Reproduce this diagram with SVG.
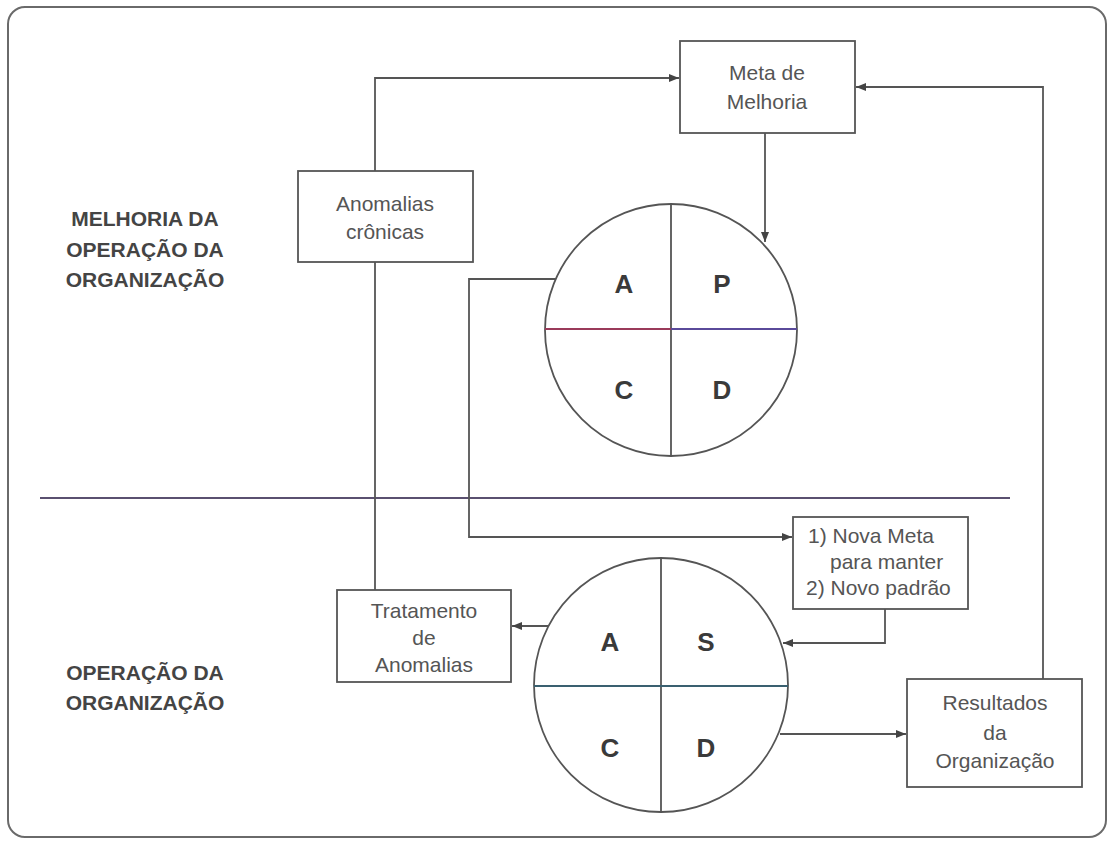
<svg xmlns="http://www.w3.org/2000/svg" width="1110" height="841" viewBox="0 0 1110 841">
<defs>
<marker id="arr" viewBox="0 0 10 10" refX="10" refY="5" markerWidth="10" markerHeight="10" markerUnits="userSpaceOnUse" orient="auto">
<path d="M0,1 L10,5 L0,9 z" fill="#444"/>
</marker>
</defs>
<style>
.frame{fill:#fff;stroke:#6a6a6a;stroke-width:2}
.box{fill:#fff;stroke:#555;stroke-width:1.8}
.bt{font-family:"Liberation Sans",Arial,sans-serif;font-size:21px;fill:#555;text-anchor:middle}
.lt{font-family:"Liberation Sans",Arial,sans-serif;font-size:26px;font-weight:bold;fill:#3a3a3a;text-anchor:middle}
.lab{font-family:"Liberation Sans",Arial,sans-serif;font-size:21px;font-weight:bold;fill:#444;text-anchor:middle}
.ln{fill:none;stroke:#555;stroke-width:1.8}
.circ{fill:#fff;stroke:#555;stroke-width:1.8}
</style>
<rect class="frame" x="8" y="7" width="1098" height="830" rx="17"/>
<g id="labels">
<text class="lab" x="145" y="226">MELHORIA DA</text>
<text class="lab" x="145" y="257">OPERAÇÃO DA</text>
<text class="lab" x="145" y="287">ORGANIZAÇÃO</text>
<text class="lab" x="145" y="680">OPERAÇÃO DA</text>
<text class="lab" x="145" y="710">ORGANIZAÇÃO</text>
</g>
<line id="divider" x1="40" y1="498" x2="1010" y2="498" stroke="#5a5070" stroke-width="1.8"/>
<g id="connectors">
<path class="ln" d="M375,171 V78 H679" marker-end="url(#arr)"/>
<path class="ln" d="M1043,679 V87 H856" marker-end="url(#arr)"/>
<path class="ln" d="M765,133 V242" marker-end="url(#arr)"/>
<path class="ln" d="M556,279 H469 V537 H792" stroke="#5a4f7a" marker-end="url(#arr)"/>
<path class="ln" d="M375,262 V590"/>
<path class="ln" d="M885,609 V643 H783" marker-end="url(#arr)"/>
<path class="ln" d="M550,626 H512" marker-end="url(#arr)"/>
<path class="ln" d="M780,734 H906" marker-end="url(#arr)"/>
</g>
<g id="meta">
<rect class="box" x="680" y="41" width="175" height="92"/>
<text class="bt" x="767" y="80">Meta de</text>
<text class="bt" x="767" y="109">Melhoria</text>
</g>
<g id="anomalias">
<rect class="box" x="298" y="171" width="175" height="91"/>
<text class="bt" x="385" y="211">Anomalias</text>
<text class="bt" x="385" y="239">crônicas</text>
</g>
<g id="pdca-melhoria">
<circle class="circ" cx="671" cy="330" r="126"/>
<line x1="671" y1="204" x2="671" y2="456" stroke="#555" stroke-width="1.8"/>
<line x1="545" y1="329" x2="671" y2="329" stroke="#9a3a5a" stroke-width="1.8"/>
<line x1="671" y1="329" x2="797" y2="329" stroke="#5a4a9a" stroke-width="1.8"/>
<text class="lt" x="624" y="293">A</text>
<text class="lt" x="722" y="293">P</text>
<text class="lt" x="624" y="399">C</text>
<text class="lt" x="722" y="399">D</text>
</g>
<g id="nova-meta">
<rect class="box" x="793" y="517" width="175" height="92"/>
<text class="bt" x="808" y="543" style="text-anchor:start">1) Nova Meta</text>
<text class="bt" x="830" y="569" style="text-anchor:start">para manter</text>
<text class="bt" x="806" y="595" style="text-anchor:start">2) Novo padrão</text>
</g>
<g id="tratamento">
<rect class="box" x="337" y="590" width="174" height="92"/>
<text class="bt" x="424" y="618">Tratamento</text>
<text class="bt" x="424" y="645">de</text>
<text class="bt" x="424" y="672">Anomalias</text>
</g>
<g id="sdca-operacao">
<circle class="circ" cx="661" cy="685" r="127"/>
<line x1="661" y1="558" x2="661" y2="812" stroke="#555" stroke-width="1.8"/>
<line x1="534" y1="686" x2="788" y2="686" stroke="#3a6070" stroke-width="1.8"/>
<text class="lt" x="610" y="651">A</text>
<text class="lt" x="706" y="651">S</text>
<text class="lt" x="610" y="757">C</text>
<text class="lt" x="706" y="757">D</text>
</g>
<g id="resultados">
<rect class="box" x="907" y="679" width="175" height="108"/>
<text class="bt" x="995" y="710">Resultados</text>
<text class="bt" x="995" y="740">da</text>
<text class="bt" x="995" y="768">Organização</text>
</g>
</svg>
